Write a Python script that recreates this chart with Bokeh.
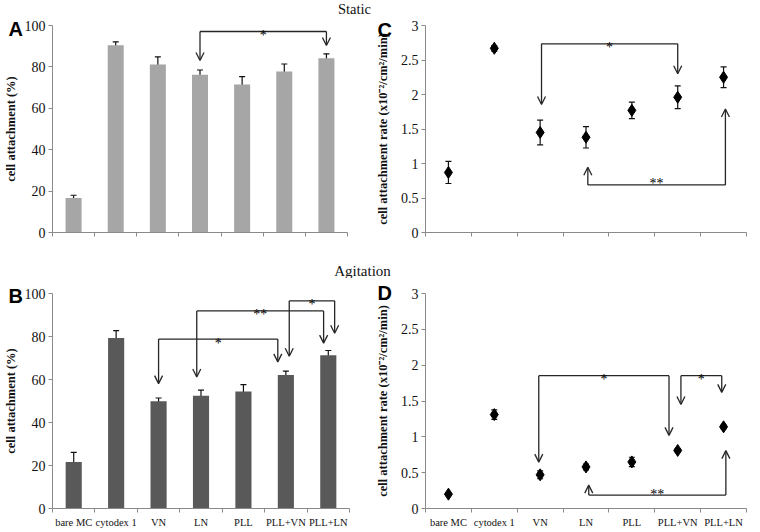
from bokeh.plotting import figure
from bokeh.models import (Range1d, FixedTicker, NumeralTickFormatter, Whisker, TeeHead,
                          ColumnDataSource, Arrow, OpenHead, Label)
from bokeh.layouts import column, row
from bokeh.embed import file_html
from bokeh.resources import INLINE

# ---------------- data ----------------
categories = ["bare MC", "cytodex 1", "VN", "LN", "PLL", "PLL+VN", "PLL+LN"]

static_pct = [16.7, 90.4, 81.2, 76.2, 71.5, 77.8, 84.2]
static_pct_err = [1.3, 1.7, 3.6, 2.3, 3.8, 3.6, 2.1]
agit_pct = [21.6, 79.3, 49.9, 52.4, 54.4, 62.1, 71.3]
agit_pct_err = [4.5, 3.4, 1.5, 2.7, 3.2, 1.8, 2.2]

static_rate = [0.87, 2.67, 1.45, 1.38, 1.77, 1.96, 2.25]
static_rate_err = [0.16, 0.04, 0.18, 0.155, 0.12, 0.165, 0.15]
agit_rate = [0.20, 1.31, 0.47, 0.58, 0.65, 0.81, 1.14]
agit_rate_err = [0.01, 0.065, 0.055, 0.04, 0.065, 0.025, 0.025]

pct_ticks = [0, 20, 40, 60, 80, 100]
rate_ticks = [0, 0.5, 1, 1.5, 2, 2.5, 3]

# significance brackets: (from, to, bracket level, tip at from, tip at to, label)
static_pct_sig = [("LN", "PLL+LN", 97.1, 83.1, 90.3, "*")]
agit_pct_sig = [("VN", "PLL+VN", 78.8, 58.1, 68.2, "*"),
                ("LN", "PLL+LN", 91.9, 61.2, 76.9, "**"),
                ("PLL+VN", "PLL+LN", 96.6, 70.8, 81.5, "*")]
static_rate_sig = [("VN", "PLL+VN", 2.735, 1.855, 2.30, "*"),
                   ("LN", "PLL+LN", 0.69, 0.946, 1.79, "**")]
agit_rate_sig = [("VN", "PLL+VN", 1.853, 0.647, 1.02, "*"),
                 ("PLL+VN", "PLL+LN", 1.853, 1.45, 1.62, "*"),
                 ("LN", "PLL+LN", 0.188, 0.326, 0.807, "**")]

# styling: horizontal nudges of arrow ends (in category widths) and star offsets (px)
static_pct_nudge = [(0.0, 0.0)]
agit_pct_nudge = [(0.0, -0.19), (-0.1, -0.11), (0.08, 0.15)]
static_rate_nudge = [(0.03, 0.0), (0.04, 0.04)]
agit_rate_nudge = [(-0.03, -0.19), (0.07, -0.04), (0.06, 0.05)]
static_pct_star_dy = [-4]
agit_pct_star_dy = [-4, -4, -4]
static_rate_star_dy = [-4, 1]
agit_rate_star_dy = [-4, -4, 1]

SERIF = "Liberation Serif"
SANS = "Liberation Sans"
AXIS_GRAY = "#8a8a8a"
INK = "#262626"


def make_panel(width, height, borders, yticks, show_xlabels, ylabel, ylabel_size,
               letter, letter_standoff):
    left, right, top, bottom = borders
    n = len(categories)
    p = figure(width=width, height=height,
               x_range=Range1d(0, n), y_range=Range1d(yticks[0], yticks[-1]),
               toolbar_location=None, output_backend="svg",
               min_border_left=left, min_border_right=right,
               min_border_top=top, min_border_bottom=bottom)
    p.grid.visible = False
    p.outline_line_color = None

    # panel letter as the plot title, pulled to the left of the frame
    p.title.text = letter
    p.title.align = "left"
    p.title.vertical_align = "bottom"
    p.title.offset = -left
    p.title.standoff = letter_standoff
    p.title.text_font = SANS
    p.title.text_font_style = "bold"
    p.title.text_font_size = "20px"
    p.title.text_color = "black"

    centers = [i + 0.5 for i in range(n)]
    bounds = [float(i) for i in range(n + 1)]
    xa = p.xaxis[0]
    xa.ticker = FixedTicker(ticks=centers if show_xlabels else [], minor_ticks=bounds)
    xa.major_tick_out = 0
    xa.major_tick_in = 0
    xa.minor_tick_out = 4
    xa.minor_tick_in = 0
    xa.minor_tick_line_color = AXIS_GRAY
    xa.axis_line_color = AXIS_GRAY
    xa.major_label_standoff = 4
    xa.major_label_text_font = SERIF
    xa.major_label_text_font_size = "10.5px"
    xa.major_label_text_color = "#111111"
    if show_xlabels:
        xa.major_label_overrides = {c: name for c, name in zip(centers, categories)}

    ya = p.yaxis[0]
    ya.ticker = FixedTicker(ticks=yticks)
    ya.formatter = NumeralTickFormatter(format="0.[0]")
    ya.major_tick_out = 4
    ya.major_tick_in = 0
    ya.minor_tick_out = 0
    ya.minor_tick_in = 0
    ya.major_tick_line_color = AXIS_GRAY
    ya.axis_line_color = AXIS_GRAY
    ya.major_label_standoff = 3
    ya.major_label_text_font = SERIF
    ya.major_label_text_font_size = "14px"
    ya.major_label_text_color = "#111111"
    ya.axis_label = ylabel
    ya.axis_label_text_font = SERIF
    ya.axis_label_text_font_style = "bold"
    ya.axis_label_text_font_size = ylabel_size
    ya.axis_label_text_color = "#111111"
    ya.axis_label_standoff = 4
    return p


def add_errors(p, src):
    p.add_layout(Whisker(source=src, base="x", upper="upper", lower="lower",
                         line_color="#111111", line_width=1.2,
                         upper_head=TeeHead(size=6, line_color="#111111", line_width=1.2),
                         lower_head=TeeHead(size=6, line_color="#111111", line_width=1.2)))


def make_source(vals, errs):
    xs = [i + 0.5 for i in range(len(categories))]
    return ColumnDataSource(dict(x=xs, top=vals,
                                 upper=[v + e for v, e in zip(vals, errs)],
                                 lower=[v - e for v, e in zip(vals, errs)]))


def add_brackets(p, sig, nudges, star_dys):
    for (a, b, level, tip_a, tip_b, lab), (da, db), dy in zip(sig, nudges, star_dys):
        xa = categories.index(a) + 0.5 + da
        xb = categories.index(b) + 0.5 + db
        p.segment(x0=[xa], y0=[level], x1=[xb], y1=[level], line_color=INK, line_width=1.3)
        for xx, tip in ((xa, tip_a), (xb, tip_b)):
            p.add_layout(Arrow(x_start=xx, y_start=level, x_end=xx, y_end=tip,
                               line_color=INK, line_width=1.3,
                               end=OpenHead(size=8, line_color=INK, line_width=1.3)))
        p.add_layout(Label(x=(xa + xb) / 2, y=level, text=lab, text_align="center",
                           text_baseline="alphabetic", y_offset=dy, text_font=SERIF,
                           text_font_size="14px", text_color="black"))


def make_strip(text, width, height, cx, size):
    s = figure(width=width, height=height, x_range=Range1d(0, width), y_range=Range1d(0, height),
               x_axis_type=None, y_axis_type=None, toolbar_location=None,
               output_backend="svg", min_border=0)
    s.grid.visible = False
    s.outline_line_color = None
    s.add_layout(Label(x=cx, y=height / 2, text=text, text_align="center",
                       text_baseline="middle", text_font=SERIF, text_font_size=size,
                       text_color="#111111"))
    return s


rate_label = "cell attachment rate (x10\u207b\u00b2/cm\u00b2/min)"

# ---------------- panels ----------------
pA = make_panel(372, 245, (44, 25, 8, 30), pct_ticks, False,
                "cell attachment (%)", "12.5px", "A", -28)
srcA = make_source(static_pct, static_pct_err)
pA.vbar(x="x", top="top", width=0.38, source=srcA, fill_color="#a6a6a6", line_color=None)
add_errors(pA, srcA)
add_brackets(pA, static_pct_sig, static_pct_nudge, static_pct_star_dy)

pC = make_panel(378, 245, (48, 4, 8, 30), rate_ticks, False,
                rate_label, "12.5px", "C", -31)
pC.yaxis[0].axis_label_standoff = 8
srcC = make_source(static_rate, static_rate_err)
add_errors(pC, srcC)
pC.scatter(x="x", y="top", marker="diamond", size=12, color="black", source=srcC)
add_brackets(pC, static_rate_sig, static_rate_nudge, static_rate_star_dy)

pB = make_panel(372, 252, (44, 23, 15, 22), pct_ticks, True,
                "cell attachment (%)", "12.5px", "B", -27)
srcB = make_source(agit_pct, agit_pct_err)
pB.vbar(x="x", top="top", width=0.38, source=srcB, fill_color="#595959", line_color=None)
add_errors(pB, srcB)
add_brackets(pB, agit_pct_sig, agit_pct_nudge, agit_pct_star_dy)

pD = make_panel(378, 252, (48, 4, 15, 22), rate_ticks, True,
                rate_label, "12.5px", "D", -21)
pD.yaxis[0].axis_label_standoff = 8
srcD = make_source(agit_rate, agit_rate_err)
add_errors(pD, srcD)
pD.scatter(x="x", y="top", marker="diamond", size=12, color="black", source=srcD)
add_brackets(pD, agit_rate_sig, agit_rate_nudge, agit_rate_star_dy)

static_strip = make_strip("Static", 750, 17, 354, "14.5px")
agit_strip = make_strip("Agitation", 750, 16, 362, "15px")

layout = column(static_strip, row(pA, pC), agit_strip, row(pB, pD))

open("out.html", "w").write(file_html(layout, INLINE))
